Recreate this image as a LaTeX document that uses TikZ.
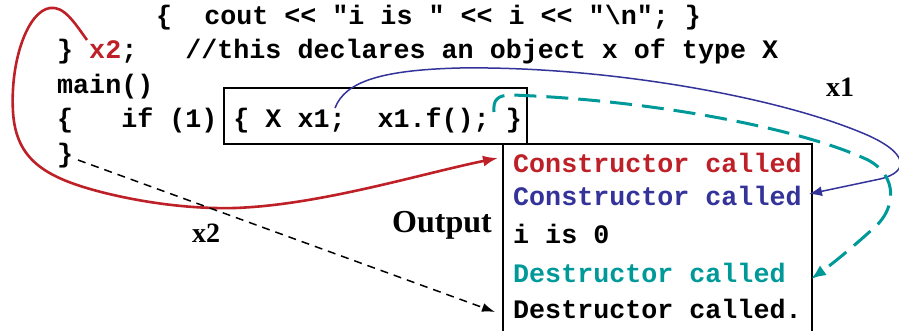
\documentclass[tikz,border=0pt]{standalone}
\usepackage{fontspec}
\setmainfont{Liberation Serif}
\newfontfamily\codefont{Liberation Mono}
\usetikzlibrary{arrows.meta}
\definecolor{redc}{RGB}{190,32,40}
\definecolor{bluec}{RGB}{51,51,153}
\definecolor{tealc}{RGB}{0,153,153}
\tikzset{
  code/.style={anchor=base west, inner sep=0pt, font=\codefont\bfseries\fontsize{26.7}{30}\selectfont},
  lbl/.style={anchor=base west, inner sep=0pt, font=\bfseries\fontsize{28}{30}\selectfont},
  frame/.style={draw=black, line width=1.1pt},
}
\frenchspacing
\begin{document}
\begin{tikzpicture}[x=1pt,y=-1pt]
\useasboundingbox (0,0) rectangle (899,331);
% code lines
\node[code] (l1) at (156,25) {\{~~cout~<<~"i~is~"~<<~i~<<~"\textbackslash n";~\}};
\node[code] (l2) at (57,59) {\}~\textcolor{redc}{x2};~~~//this~declares~an~object~x~of~type~X};
\node[code] (l3) at (57,94) {main()};
\node[code] (l4) at (57,128) {\{~~~if~(1)~\{~X~x1;~~x1.f();~\}};
\node[code] (l5) at (57,163) {\}};
% box around the if body
\draw[frame] (224,88) rectangle (527,144);
% output box
\draw[frame] (503,331) -- (503,144) -- (812,144) -- (812,331);
\node[code, text=redc] (o1) at (513,173) {Constructor~called};
\node[code, text=bluec] (o2) at (513,205) {Constructor~called};
\node[code] (o3) at (513,243) {i~is~0};
\node[code, text=tealc] (o4) at (513,282) {Destructor~called};
\node[code] (o5) at (513,318) {Destructor~called.};
% labels
\node[lbl] (x1lbl) at (826,97) {x1};
\node[lbl] (x2lbl) at (192,242) {x2};
\node[lbl, font=\bfseries\fontsize{32}{34}\selectfont] (outlbl) at (392,233) {Output};
% connector end points
\coordinate (x2mark) at (87,40);
\coordinate (redtip) at (498,158);
\coordinate (x1start) at (335,108);
\coordinate (bluetip) at (809,194);
\coordinate (tealstart) at (494,112);
\coordinate (tealtip) at (811,279);
\coordinate (brace) at (78,160);
\coordinate (blacktip) at (495,312);
% red curve (x2)
\draw[redc, line width=2.6pt, -{Latex[length=15pt,width=11pt]}]
  (x2mark) .. controls (74,22) and (64,6) .. (50,8)
  .. controls (28,11) and (10,60) .. (13,112)
  .. controls (16,160) and (45,178) .. (105,193)
  .. controls (150,204) and (195,209) .. (235,208)
  .. controls (320,205) and (420,174) .. (redtip);
% blue curve (x1 constructor)
\draw[bluec, line width=1.5pt, -{Latex[length=13pt,width=10pt]}]
  (x1start) .. controls (345,82) and (380,70) .. (460,68)
  .. controls (600,66) and (770,95) .. (860,132)
  .. controls (910,152) and (910,172) .. (880,179)
  -- (bluetip);
% teal dashed curve (x1 destructor)
\draw[tealc, line width=3pt, dash pattern=on 22pt off 10pt, -{Latex[length=15pt,width=12pt]}]
  (tealstart) .. controls (493,100) and (497,95) .. (512,95)
  .. controls (650,100) and (800,128) .. (868,160)
  .. controls (898,176) and (896,208) .. (875,227)
  .. controls (855,245) and (835,262) .. (tealtip);
% black dashed (x2 destructor)
\draw[black, line width=1.5pt, dash pattern=on 8pt off 6pt, -{Latex[length=13pt,width=9pt]}]
  (brace) -- (blacktip);
\end{tikzpicture}
\end{document}
